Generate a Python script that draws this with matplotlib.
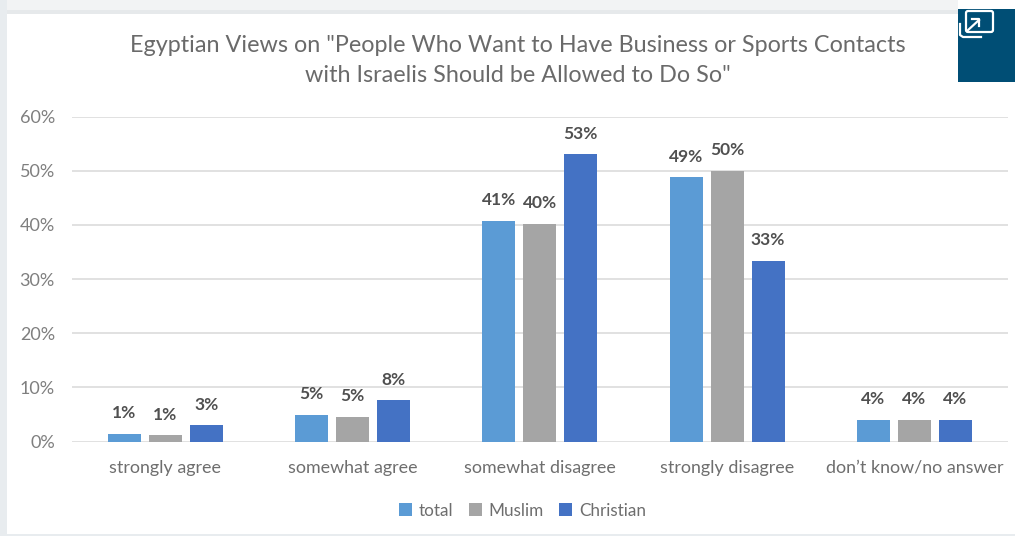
import matplotlib
matplotlib.use('Agg')
import matplotlib.pyplot as plt
import numpy as np
from matplotlib.patches import Rectangle, FancyBboxPatch

plt.rcParams['font.family'] = ['Lato', 'DejaVu Sans']

W, H = 1015, 536

categories = ['strongly agree', 'somewhat agree', 'somewhat disagree', 'strongly disagree', 'don\u2019t know/no answer']
series_names = ['total', 'Muslim', 'Christian']
total = [1.4, 4.9, 40.8, 48.8, 4.0]
muslim = [1.2, 4.6, 40.2, 50.0, 4.0]
christian = [3.0, 7.6, 53.0, 33.4, 4.0]
colors = ['#5b9bd5', '#a5a5a5', '#4472c4']
yticks = [0, 10, 20, 30, 40, 50, 60]

fig = plt.figure(figsize=(W / 100, H / 100), dpi=100, facecolor='white')

# axes box in pixel terms
left, right, top, bottom = 71.5, 1008, 116.5, 441.5
ax = fig.add_axes([left / W, 1 - bottom / H, (right - left) / W, (bottom - top) / H])

x = np.arange(len(categories))
width = 0.176
step = 0.219
for i, vals in enumerate([total, muslim, christian]):
    bars = ax.bar(x + (i - 1) * step, vals, width, color=colors[i], label=series_names[i], zorder=3)
    ax.bar_label(bars, labels=[f'{v:.0f}%' for v in vals], padding=9, fontsize=12.5,
                 fontweight='bold', color='#505050')

ax.set_xlim(-0.5, 4.5)
ax.set_ylim(0, 60)
ax.set_yticks(yticks)
ax.set_yticklabels([f'{t}%' for t in yticks], fontsize=13, color='#7f7f7f')
ax.set_xticks(x)
ax.set_xticklabels(categories, fontsize=12.9, color='#6e6e6e')
ax.tick_params(axis='both', length=0)
ax.tick_params(axis='x', pad=13)
ax.tick_params(axis='y', pad=12)
ax.grid(axis='y', color='#d9d9d9', lw=1.1, zorder=0)
ax.set_axisbelow(True)
for s in ax.spines.values():
    s.set_visible(False)

fig.text(518 / W, 1 - 60.5 / H,
         'Egyptian Views on "People Who Want to Have Business or Sports Contacts\n'
         'with Israelis Should be Allowed to Do So"',
         ha='center', va='center', fontsize=16.8, color='#6a6a6a', linespacing=1.58)

fig.legend(loc='center', bbox_to_anchor=(522.5 / W, 1 - 510.5 / H), ncol=3, frameon=False,
           fontsize=12.3, labelcolor='#6e6e6e', handlelength=0.75, handleheight=0.75,
           handletextpad=0.4, columnspacing=0.9)

# page frame around the chart
fig.add_artist(Rectangle((0, 1 - 10 / H), 958 / W, 10 / H, transform=fig.transFigure, color='#f2f3f4', lw=0))
fig.add_artist(Rectangle((0, 1 - 14 / H), 958 / W, 4 / H, transform=fig.transFigure, color='#e6e9eb', lw=0))
fig.add_artist(Rectangle((0, 0), 7 / W, 1, transform=fig.transFigure, color='#e8ecef', lw=0))
fig.add_artist(Rectangle((0, 0), 1, 2 / H, transform=fig.transFigure, color='#e8ecef', lw=0))

# expand button, top right, on an overlay so it sits above the frame
ov = fig.add_axes([0, 0, 1, 1], facecolor='none', zorder=5)
ov.set_xlim(0, W)
ov.set_ylim(H, 0)
ov.axis('off')
ov.add_patch(Rectangle((958, 9), 57, 73, color='#004e75', lw=0))
ov.add_patch(FancyBboxPatch((966, 11), 27, 21, boxstyle='round,pad=0,rounding_size=2',
                            fc='#004e75', ec='white', lw=1.6))
ov.plot([960, 960, 963, 981], [24, 35, 37, 37], color='white', lw=1.6)
ov.plot([967, 979], [31, 20], color='white', lw=1.6)
ov.plot([972, 979, 979], [19, 19, 26], color='white', lw=1.6)

fig.savefig('out.png', dpi=100)
